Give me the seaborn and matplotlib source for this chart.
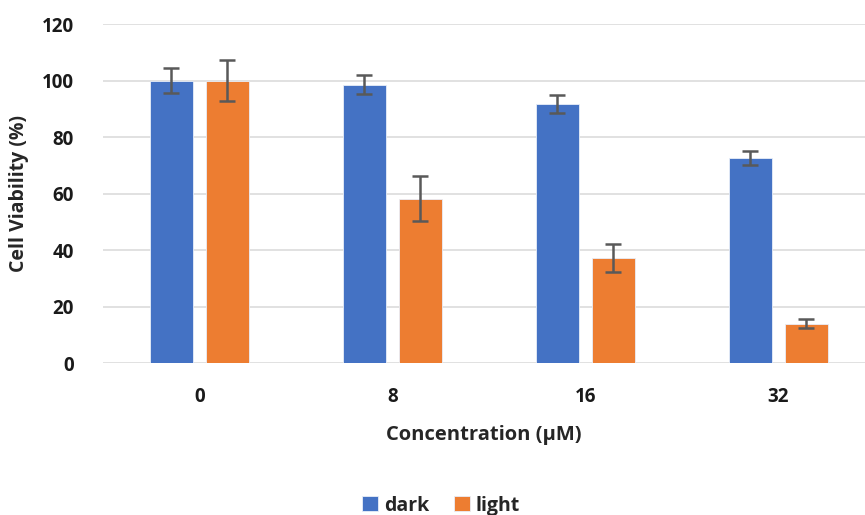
import pandas as pd
import matplotlib.pyplot as plt
import seaborn as sns

# Data
concentrations = ['0', '8', '16', '32']
dark_mean = [100.0, 98.6, 91.7, 72.6]
dark_err = [4.4, 3.4, 3.2, 2.6]
light_mean = [100.0, 58.2, 37.2, 14.0]
light_err = [7.3, 8.0, 4.9, 1.5]

sns.set_theme(style="white")
plt.rcParams['font.family'] = ['Open Sans', 'DejaVu Sans']

df = pd.DataFrame({
    'Concentration': concentrations * 2,
    'Viability': dark_mean + light_mean,
    'Err': dark_err + light_err,
    'Condition': ['dark'] * 4 + ['light'] * 4,
})

palette = {'dark': '#4472C4', 'light': '#ED7D31'}

fig = plt.figure(figsize=(8.65, 5.15), dpi=100)
ax = fig.add_axes([0.119, 0.295, 0.881, 0.658])

sns.barplot(data=df, x='Concentration', y='Viability', hue='Condition',
            palette=palette, order=concentrations, errorbar=None,
            width=0.58, gap=0.23, edgecolor='#e8eef8', linewidth=0.6,
            saturation=1, ax=ax, zorder=3)

# Error bars placed on the drawn bars
errs = {'dark': dark_err, 'light': light_err}
for cond, cont in zip(['dark', 'light'], ax.containers):
    xs = [b.get_x() + b.get_width() / 2 for b in cont]
    hs = [b.get_height() for b in cont]
    ax.errorbar(xs, hs, yerr=errs[cond], fmt='none', ecolor='#595959',
                elinewidth=1.8, capsize=6, capthick=1.8, zorder=4)

ax.set_ylim(0, 120)
ax.set_yticks(range(0, 121, 20))
ax.set_xlim(-0.5, 3.45)
ax.grid(axis='y', color='#d9d9d9', linewidth=1.1, zorder=0)
ax.set_axisbelow(True)
for s in ax.spines.values():
    s.set_visible(False)
ax.tick_params(axis='both', length=0, labelsize=13.5)
ax.tick_params(axis='x', pad=17)
ax.tick_params(axis='y', pad=21)
for lbl in ax.get_xticklabels() + ax.get_yticklabels():
    lbl.set_fontweight('bold')
    lbl.set_color('#1a1a1a')

ax.set_xlabel('Concentration (μM)', fontsize=14.5, fontweight='bold', labelpad=13)
ax.set_ylabel('Cell Viability (%)', fontsize=14, fontweight='bold', labelpad=9)

handles, labels = ax.get_legend_handles_labels()
ax.get_legend().remove()
fig.legend(handles, labels, loc='lower center', bbox_to_anchor=(0.51, -0.035),
           ncol=2, frameon=False, prop={'weight': 'bold', 'size': 14},
           handlelength=0.8, handleheight=0.8, handletextpad=0.3,
           columnspacing=1.3)

fig.savefig('out.png', dpi=100)
